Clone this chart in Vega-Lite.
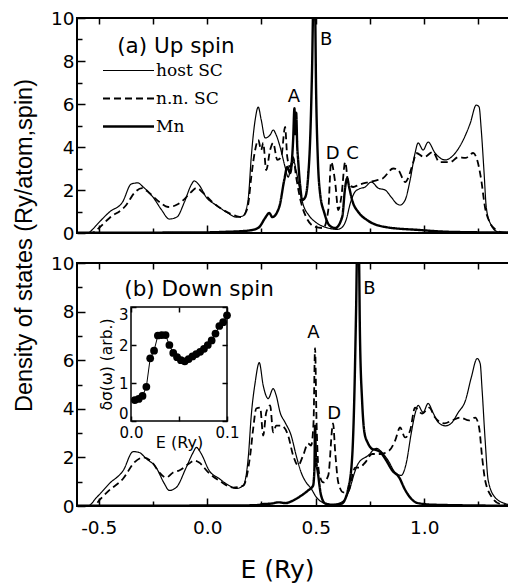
{
"$schema": "https://vega.github.io/schema/vega-lite/v6.json",
"padding": {"left": 11, "top": 8, "right": 0, "bottom": 0},
"bounds": "flush",
"spacing": 30,
"config": {
  "font": "DejaVu Sans",
  "view": {"stroke": "black", "strokeWidth": 2},
  "axis": {"domain": false, "grid": false, "tickColor": "black", "tickWidth": 1.5, "labelColor": "black", "titleColor": "black", "labelFontSize": 18.5, "titleFontWeight": "normal", "labelFont": "DejaVu Sans", "titleFont": "DejaVu Sans"},
  "line": {"color": "black"},
  "text": {"color": "black"}
},
"datasets": {
  "up": [
    {"E":-0.6,"d":0,"s":"host SC"},{"E":-0.55,"d":0,"s":"host SC"},{"E":-0.53,"d":0.15,"s":"host SC"},{"E":-0.51,"d":0.37,"s":"host SC"},{"E":-0.45,"d":0.98,"s":"host SC"},{"E":-0.39,"d":1.44,"s":"host SC"},{"E":-0.35,"d":2.28,"s":"host SC"},{"E":-0.32,"d":2.33,"s":"host SC"},{"E":-0.295,"d":2.14,"s":"host SC"},{"E":-0.25,"d":1.67,"s":"host SC"},{"E":-0.21,"d":1.07,"s":"host SC"},{"E":-0.175,"d":0.65,"s":"host SC"},{"E":-0.14,"d":0.74,"s":"host SC"},{"E":-0.105,"d":1.44,"s":"host SC"},{"E":-0.074,"d":2.23,"s":"host SC"},{"E":-0.06,"d":2.42,"s":"host SC"},{"E":-0.037,"d":2.23,"s":"host SC"},{"E":-0.005,"d":1.67,"s":"host SC"},{"E":0.04,"d":1.3,"s":"host SC"},{"E":0.088,"d":0.98,"s":"host SC"},{"E":0.134,"d":0.74,"s":"host SC"},{"E":0.166,"d":0.8,"s":"host SC"},{"E":0.18,"d":1.1,"s":"host SC"},{"E":0.19,"d":1.67,"s":"host SC"},{"E":0.203,"d":3.53,"s":"host SC"},{"E":0.221,"d":5.26,"s":"host SC"},{"E":0.235,"d":5.86,"s":"host SC"},{"E":0.249,"d":5.26,"s":"host SC"},{"E":0.267,"d":4.42,"s":"host SC"},{"E":0.29,"d":4.56,"s":"host SC"},{"E":0.304,"d":4.79,"s":"host SC"},{"E":0.318,"d":4.56,"s":"host SC"},{"E":0.336,"d":4.0,"s":"host SC"},{"E":0.359,"d":3.07,"s":"host SC"},{"E":0.373,"d":2.6,"s":"host SC"},{"E":0.387,"d":3.07,"s":"host SC"},{"E":0.4,"d":3.3,"s":"host SC"},{"E":0.41,"d":2.9,"s":"host SC"},{"E":0.425,"d":2.1,"s":"host SC"},{"E":0.44,"d":1.4,"s":"host SC"},{"E":0.47,"d":0.8,"s":"host SC"},{"E":0.5,"d":0.5,"s":"host SC"},{"E":0.55,"d":0.25,"s":"host SC"},{"E":0.6,"d":0.17,"s":"host SC"},{"E":0.62,"d":0.25,"s":"host SC"},{"E":0.64,"d":0.6,"s":"host SC"},{"E":0.66,"d":1.4,"s":"host SC"},{"E":0.68,"d":1.9,"s":"host SC"},{"E":0.7,"d":2.05,"s":"host SC"},{"E":0.728,"d":2.14,"s":"host SC"},{"E":0.756,"d":2.37,"s":"host SC"},{"E":0.788,"d":2.09,"s":"host SC"},{"E":0.82,"d":2.0,"s":"host SC"},{"E":0.848,"d":1.67,"s":"host SC"},{"E":0.875,"d":1.35,"s":"host SC"},{"E":0.889,"d":1.3,"s":"host SC"},{"E":0.912,"d":1.53,"s":"host SC"},{"E":0.935,"d":2.46,"s":"host SC"},{"E":0.958,"d":3.72,"s":"host SC"},{"E":0.972,"d":4.19,"s":"host SC"},{"E":0.995,"d":3.86,"s":"host SC"},{"E":1.018,"d":4.23,"s":"host SC"},{"E":1.05,"d":3.72,"s":"host SC"},{"E":1.097,"d":3.4,"s":"host SC"},{"E":1.143,"d":3.72,"s":"host SC"},{"E":1.18,"d":4.33,"s":"host SC"},{"E":1.212,"d":5.1,"s":"host SC"},{"E":1.24,"d":5.95,"s":"host SC"},{"E":1.253,"d":5.86,"s":"host SC"},{"E":1.263,"d":4.79,"s":"host SC"},{"E":1.276,"d":2.79,"s":"host SC"},{"E":1.286,"d":1.21,"s":"host SC"},{"E":1.304,"d":0.46,"s":"host SC"},{"E":1.34,"d":0.05,"s":"host SC"},{"E":1.4,"d":0,"s":"host SC"},
    {"E":-0.6,"d":0,"s":"n.n. SC"},{"E":-0.53,"d":0,"s":"n.n. SC"},{"E":-0.51,"d":0.14,"s":"n.n. SC"},{"E":-0.45,"d":0.7,"s":"n.n. SC"},{"E":-0.373,"d":1.3,"s":"n.n. SC"},{"E":-0.336,"d":1.86,"s":"n.n. SC"},{"E":-0.3,"d":2.09,"s":"n.n. SC"},{"E":-0.267,"d":1.86,"s":"n.n. SC"},{"E":-0.22,"d":1.44,"s":"n.n. SC"},{"E":-0.18,"d":1.21,"s":"n.n. SC"},{"E":-0.143,"d":1.3,"s":"n.n. SC"},{"E":-0.11,"d":1.53,"s":"n.n. SC"},{"E":-0.074,"d":1.9,"s":"n.n. SC"},{"E":-0.05,"d":2.09,"s":"n.n. SC"},{"E":-0.018,"d":1.86,"s":"n.n. SC"},{"E":0.028,"d":1.4,"s":"n.n. SC"},{"E":0.074,"d":1.07,"s":"n.n. SC"},{"E":0.134,"d":0.79,"s":"n.n. SC"},{"E":0.157,"d":0.74,"s":"n.n. SC"},{"E":0.175,"d":0.9,"s":"n.n. SC"},{"E":0.19,"d":1.4,"s":"n.n. SC"},{"E":0.203,"d":2.6,"s":"n.n. SC"},{"E":0.221,"d":3.86,"s":"n.n. SC"},{"E":0.235,"d":4.33,"s":"n.n. SC"},{"E":0.249,"d":3.86,"s":"n.n. SC"},{"E":0.258,"d":4.19,"s":"n.n. SC"},{"E":0.272,"d":2.93,"s":"n.n. SC"},{"E":0.29,"d":3.86,"s":"n.n. SC"},{"E":0.304,"d":4.19,"s":"n.n. SC"},{"E":0.323,"d":3.4,"s":"n.n. SC"},{"E":0.341,"d":3.53,"s":"n.n. SC"},{"E":0.359,"d":4.93,"s":"n.n. SC"},{"E":0.369,"d":3.53,"s":"n.n. SC"},{"E":0.382,"d":3.07,"s":"n.n. SC"},{"E":0.396,"d":3.53,"s":"n.n. SC"},{"E":0.41,"d":2.6,"s":"n.n. SC"},{"E":0.433,"d":1.4,"s":"n.n. SC"},{"E":0.456,"d":0.74,"s":"n.n. SC"},{"E":0.498,"d":0.28,"s":"n.n. SC"},{"E":0.535,"d":0.23,"s":"n.n. SC"},{"E":0.558,"d":1.07,"s":"n.n. SC"},{"E":0.571,"d":3.3,"s":"n.n. SC"},{"E":0.59,"d":2.33,"s":"n.n. SC"},{"E":0.604,"d":1.07,"s":"n.n. SC"},{"E":0.618,"d":1.67,"s":"n.n. SC"},{"E":0.636,"d":3.3,"s":"n.n. SC"},{"E":0.65,"d":2.33,"s":"n.n. SC"},{"E":0.673,"d":2.14,"s":"n.n. SC"},{"E":0.7,"d":2.25,"s":"n.n. SC"},{"E":0.746,"d":2.37,"s":"n.n. SC"},{"E":0.78,"d":2.45,"s":"n.n. SC"},{"E":0.81,"d":2.55,"s":"n.n. SC"},{"E":0.857,"d":3.0,"s":"n.n. SC"},{"E":0.88,"d":2.93,"s":"n.n. SC"},{"E":0.912,"d":2.37,"s":"n.n. SC"},{"E":0.95,"d":3.3,"s":"n.n. SC"},{"E":0.963,"d":3.72,"s":"n.n. SC"},{"E":1.0,"d":3.53,"s":"n.n. SC"},{"E":1.04,"d":3.77,"s":"n.n. SC"},{"E":1.07,"d":3.3,"s":"n.n. SC"},{"E":1.12,"d":3.3,"s":"n.n. SC"},{"E":1.157,"d":3.53,"s":"n.n. SC"},{"E":1.19,"d":3.49,"s":"n.n. SC"},{"E":1.226,"d":3.72,"s":"n.n. SC"},{"E":1.244,"d":3.4,"s":"n.n. SC"},{"E":1.263,"d":2.46,"s":"n.n. SC"},{"E":1.28,"d":1.21,"s":"n.n. SC"},{"E":1.304,"d":0.46,"s":"n.n. SC"},{"E":1.33,"d":0.15,"s":"n.n. SC"},{"E":1.36,"d":0.03,"s":"n.n. SC"},{"E":1.4,"d":0,"s":"n.n. SC"},
    {"E":-0.6,"d":0.01,"s":"Mn"},{"E":-0.2,"d":0.02,"s":"Mn"},{"E":0.0,"d":0.03,"s":"Mn"},{"E":0.1,"d":0.06,"s":"Mn"},{"E":0.15,"d":0.08,"s":"Mn"},{"E":0.207,"d":0.14,"s":"Mn"},{"E":0.24,"d":0.28,"s":"Mn"},{"E":0.267,"d":0.7,"s":"Mn"},{"E":0.286,"d":0.93,"s":"Mn"},{"E":0.3,"d":0.74,"s":"Mn"},{"E":0.332,"d":1.21,"s":"Mn"},{"E":0.355,"d":2.46,"s":"Mn"},{"E":0.369,"d":3.07,"s":"Mn"},{"E":0.382,"d":2.79,"s":"Mn"},{"E":0.396,"d":4.33,"s":"Mn"},{"E":0.402,"d":5.8,"s":"Mn"},{"E":0.406,"d":4.6,"s":"Mn"},{"E":0.41,"d":5.6,"s":"Mn"},{"E":0.415,"d":4.0,"s":"Mn"},{"E":0.419,"d":3.4,"s":"Mn"},{"E":0.429,"d":2.14,"s":"Mn"},{"E":0.438,"d":1.53,"s":"Mn"},{"E":0.452,"d":1.67,"s":"Mn"},{"E":0.465,"d":2.6,"s":"Mn"},{"E":0.475,"d":4.5,"s":"Mn"},{"E":0.483,"d":7.5,"s":"Mn"},{"E":0.49,"d":11,"s":"Mn"},{"E":0.496,"d":11,"s":"Mn"},{"E":0.502,"d":6.5,"s":"Mn"},{"E":0.51,"d":3.4,"s":"Mn"},{"E":0.52,"d":1.86,"s":"Mn"},{"E":0.54,"d":0.93,"s":"Mn"},{"E":0.562,"d":0.37,"s":"Mn"},{"E":0.59,"d":0.23,"s":"Mn"},{"E":0.622,"d":0.74,"s":"Mn"},{"E":0.636,"d":2.14,"s":"Mn"},{"E":0.645,"d":2.55,"s":"Mn"},{"E":0.654,"d":2.14,"s":"Mn"},{"E":0.668,"d":1.53,"s":"Mn"},{"E":0.7,"d":0.93,"s":"Mn"},{"E":0.737,"d":0.6,"s":"Mn"},{"E":0.82,"d":0.28,"s":"Mn"},{"E":0.977,"d":0.14,"s":"Mn"},{"E":1.13,"d":0.05,"s":"Mn"},{"E":1.4,"d":0.02,"s":"Mn"}
  ],
  "down": [
    {"E":-0.6,"d":0,"s":"host SC"},{"E":-0.55,"d":0,"s":"host SC"},{"E":-0.51,"d":0.35,"s":"host SC"},{"E":-0.45,"d":0.93,"s":"host SC"},{"E":-0.387,"d":1.46,"s":"host SC"},{"E":-0.341,"d":2.24,"s":"host SC"},{"E":-0.313,"d":2.2,"s":"host SC"},{"E":-0.281,"d":1.95,"s":"host SC"},{"E":-0.235,"d":1.58,"s":"host SC"},{"E":-0.198,"d":0.93,"s":"host SC"},{"E":-0.175,"d":0.64,"s":"host SC"},{"E":-0.143,"d":0.76,"s":"host SC"},{"E":-0.097,"d":1.58,"s":"host SC"},{"E":-0.065,"d":2.2,"s":"host SC"},{"E":-0.05,"d":2.41,"s":"host SC"},{"E":-0.028,"d":2.16,"s":"host SC"},{"E":0.009,"d":1.46,"s":"host SC"},{"E":0.055,"d":1.13,"s":"host SC"},{"E":0.101,"d":0.84,"s":"host SC"},{"E":0.134,"d":0.72,"s":"host SC"},{"E":0.166,"d":0.84,"s":"host SC"},{"E":0.19,"d":2.08,"s":"host SC"},{"E":0.203,"d":3.72,"s":"host SC"},{"E":0.221,"d":5.08,"s":"host SC"},{"E":0.24,"d":5.9,"s":"host SC"},{"E":0.258,"d":4.96,"s":"host SC"},{"E":0.281,"d":4.42,"s":"host SC"},{"E":0.304,"d":4.83,"s":"host SC"},{"E":0.318,"d":4.55,"s":"host SC"},{"E":0.336,"d":3.85,"s":"host SC"},{"E":0.359,"d":3.44,"s":"host SC"},{"E":0.387,"d":2.9,"s":"host SC"},{"E":0.41,"d":2.08,"s":"host SC"},{"E":0.433,"d":1.38,"s":"host SC"},{"E":0.456,"d":0.97,"s":"host SC"},{"E":0.479,"d":0.72,"s":"host SC"},{"E":0.5,"d":0.4,"s":"host SC"},{"E":0.53,"d":0.15,"s":"host SC"},{"E":0.57,"d":0.05,"s":"host SC"},{"E":0.61,"d":0.12,"s":"host SC"},{"E":0.64,"d":0.35,"s":"host SC"},{"E":0.66,"d":0.8,"s":"host SC"},{"E":0.68,"d":1.4,"s":"host SC"},{"E":0.696,"d":1.75,"s":"host SC"},{"E":0.742,"d":2.08,"s":"host SC"},{"E":0.779,"d":2.37,"s":"host SC"},{"E":0.81,"d":2.16,"s":"host SC"},{"E":0.834,"d":1.87,"s":"host SC"},{"E":0.866,"d":1.38,"s":"host SC"},{"E":0.894,"d":1.26,"s":"host SC"},{"E":0.917,"d":1.75,"s":"host SC"},{"E":0.94,"d":2.98,"s":"host SC"},{"E":0.958,"d":3.8,"s":"host SC"},{"E":0.972,"d":4.14,"s":"host SC"},{"E":0.995,"d":3.85,"s":"host SC"},{"E":1.018,"d":4.22,"s":"host SC"},{"E":1.04,"d":3.85,"s":"host SC"},{"E":1.065,"d":3.44,"s":"host SC"},{"E":1.097,"d":3.3,"s":"host SC"},{"E":1.124,"d":3.4,"s":"host SC"},{"E":1.157,"d":3.85,"s":"host SC"},{"E":1.19,"d":4.34,"s":"host SC"},{"E":1.217,"d":5.29,"s":"host SC"},{"E":1.244,"d":6.07,"s":"host SC"},{"E":1.258,"d":5.86,"s":"host SC"},{"E":1.267,"d":4.75,"s":"host SC"},{"E":1.281,"d":2.69,"s":"host SC"},{"E":1.295,"d":1.05,"s":"host SC"},{"E":1.327,"d":0.35,"s":"host SC"},{"E":1.373,"d":0.1,"s":"host SC"},{"E":1.4,"d":0.05,"s":"host SC"},
    {"E":-0.6,"d":0,"s":"n.n. SC"},{"E":-0.52,"d":0,"s":"n.n. SC"},{"E":-0.498,"d":0.23,"s":"n.n. SC"},{"E":-0.452,"d":0.64,"s":"n.n. SC"},{"E":-0.387,"d":1.13,"s":"n.n. SC"},{"E":-0.336,"d":1.79,"s":"n.n. SC"},{"E":-0.295,"d":2.0,"s":"n.n. SC"},{"E":-0.249,"d":1.75,"s":"n.n. SC"},{"E":-0.221,"d":1.38,"s":"n.n. SC"},{"E":-0.189,"d":1.17,"s":"n.n. SC"},{"E":-0.157,"d":1.38,"s":"n.n. SC"},{"E":-0.129,"d":1.46,"s":"n.n. SC"},{"E":-0.083,"d":1.75,"s":"n.n. SC"},{"E":-0.06,"d":1.87,"s":"n.n. SC"},{"E":-0.037,"d":1.79,"s":"n.n. SC"},{"E":0.005,"d":1.38,"s":"n.n. SC"},{"E":0.055,"d":1.05,"s":"n.n. SC"},{"E":0.12,"d":0.76,"s":"n.n. SC"},{"E":0.166,"d":0.84,"s":"n.n. SC"},{"E":0.198,"d":2.08,"s":"n.n. SC"},{"E":0.212,"d":3.19,"s":"n.n. SC"},{"E":0.226,"d":4.01,"s":"n.n. SC"},{"E":0.244,"d":4.05,"s":"n.n. SC"},{"E":0.258,"d":2.9,"s":"n.n. SC"},{"E":0.272,"d":3.85,"s":"n.n. SC"},{"E":0.29,"d":4.14,"s":"n.n. SC"},{"E":0.304,"d":3.03,"s":"n.n. SC"},{"E":0.318,"d":3.31,"s":"n.n. SC"},{"E":0.341,"d":3.31,"s":"n.n. SC"},{"E":0.373,"d":2.9,"s":"n.n. SC"},{"E":0.396,"d":2.08,"s":"n.n. SC"},{"E":0.419,"d":1.67,"s":"n.n. SC"},{"E":0.442,"d":2.08,"s":"n.n. SC"},{"E":0.465,"d":2.57,"s":"n.n. SC"},{"E":0.479,"d":2.49,"s":"n.n. SC"},{"E":0.49,"d":3.44,"s":"n.n. SC"},{"E":0.497,"d":6.5,"s":"n.n. SC"},{"E":0.504,"d":3.44,"s":"n.n. SC"},{"E":0.515,"d":1.38,"s":"n.n. SC"},{"E":0.535,"d":0.97,"s":"n.n. SC"},{"E":0.558,"d":1.26,"s":"n.n. SC"},{"E":0.58,"d":3.4,"s":"n.n. SC"},{"E":0.59,"d":2.2,"s":"n.n. SC"},{"E":0.604,"d":0.97,"s":"n.n. SC"},{"E":0.627,"d":0.56,"s":"n.n. SC"},{"E":0.65,"d":0.6,"s":"n.n. SC"},{"E":0.682,"d":1.58,"s":"n.n. SC"},{"E":0.7,"d":1.58,"s":"n.n. SC"},{"E":0.728,"d":1.79,"s":"n.n. SC"},{"E":0.76,"d":2.14,"s":"n.n. SC"},{"E":0.797,"d":2.14,"s":"n.n. SC"},{"E":0.839,"d":2.28,"s":"n.n. SC"},{"E":0.866,"d":2.69,"s":"n.n. SC"},{"E":0.889,"d":3.23,"s":"n.n. SC"},{"E":0.912,"d":2.82,"s":"n.n. SC"},{"E":0.935,"d":3.11,"s":"n.n. SC"},{"E":0.958,"d":4.05,"s":"n.n. SC"},{"E":0.99,"d":3.8,"s":"n.n. SC"},{"E":1.023,"d":4.05,"s":"n.n. SC"},{"E":1.05,"d":3.64,"s":"n.n. SC"},{"E":1.092,"d":3.4,"s":"n.n. SC"},{"E":1.129,"d":3.52,"s":"n.n. SC"},{"E":1.166,"d":3.64,"s":"n.n. SC"},{"E":1.207,"d":3.52,"s":"n.n. SC"},{"E":1.235,"d":3.64,"s":"n.n. SC"},{"E":1.253,"d":3.23,"s":"n.n. SC"},{"E":1.267,"d":2.0,"s":"n.n. SC"},{"E":1.281,"d":1.05,"s":"n.n. SC"},{"E":1.313,"d":0.35,"s":"n.n. SC"},{"E":1.35,"d":0.08,"s":"n.n. SC"},{"E":1.4,"d":0.02,"s":"n.n. SC"},
    {"E":-0.6,"d":0.01,"s":"Mn"},{"E":0.0,"d":0.02,"s":"Mn"},{"E":0.22,"d":0.03,"s":"Mn"},{"E":0.26,"d":0.08,"s":"Mn"},{"E":0.295,"d":0.1,"s":"Mn"},{"E":0.33,"d":0.15,"s":"Mn"},{"E":0.36,"d":0.12,"s":"Mn"},{"E":0.39,"d":0.2,"s":"Mn"},{"E":0.42,"d":0.35,"s":"Mn"},{"E":0.445,"d":0.5,"s":"Mn"},{"E":0.465,"d":0.64,"s":"Mn"},{"E":0.488,"d":0.84,"s":"Mn"},{"E":0.494,"d":1.5,"s":"Mn"},{"E":0.497,"d":3.3,"s":"Mn"},{"E":0.501,"d":2.0,"s":"Mn"},{"E":0.51,"d":1.38,"s":"Mn"},{"E":0.525,"d":0.43,"s":"Mn"},{"E":0.545,"d":0.1,"s":"Mn"},{"E":0.58,"d":0.05,"s":"Mn"},{"E":0.62,"d":0.1,"s":"Mn"},{"E":0.65,"d":0.72,"s":"Mn"},{"E":0.668,"d":2.0,"s":"Mn"},{"E":0.678,"d":4.5,"s":"Mn"},{"E":0.686,"d":8.0,"s":"Mn"},{"E":0.692,"d":11,"s":"Mn"},{"E":0.698,"d":11,"s":"Mn"},{"E":0.704,"d":7.0,"s":"Mn"},{"E":0.714,"d":4.3,"s":"Mn"},{"E":0.725,"d":3.0,"s":"Mn"},{"E":0.74,"d":2.6,"s":"Mn"},{"E":0.76,"d":2.35,"s":"Mn"},{"E":0.78,"d":2.3,"s":"Mn"},{"E":0.8,"d":2.2,"s":"Mn"},{"E":0.82,"d":1.95,"s":"Mn"},{"E":0.853,"d":1.46,"s":"Mn"},{"E":0.885,"d":1.17,"s":"Mn"},{"E":0.91,"d":0.7,"s":"Mn"},{"E":0.94,"d":0.3,"s":"Mn"},{"E":0.97,"d":0.12,"s":"Mn"},{"E":1.05,"d":0.05,"s":"Mn"},{"E":1.4,"d":0.01,"s":"Mn"}
  ],
  "inset": [
    {"e":0.004,"v":0.55},{"e":0.008,"v":0.58},{"e":0.012,"v":0.66},{"e":0.016,"v":0.9},{"e":0.02,"v":1.65},{"e":0.024,"v":1.85},{"e":0.028,"v":2.25},{"e":0.032,"v":2.26},{"e":0.036,"v":2.26},{"e":0.04,"v":2.0},{"e":0.044,"v":1.79},{"e":0.048,"v":1.68},{"e":0.052,"v":1.6},{"e":0.056,"v":1.57},{"e":0.06,"v":1.63},{"e":0.064,"v":1.7},{"e":0.068,"v":1.76},{"e":0.072,"v":1.82},{"e":0.076,"v":1.9},{"e":0.08,"v":2.0},{"e":0.084,"v":2.12},{"e":0.088,"v":2.3},{"e":0.092,"v":2.5},{"e":0.096,"v":2.6},{"e":0.1,"v":2.78}
  ],
  "lab_up": [
    {"x":0.399,"y":6.1,"t":"A"},{"x":0.548,"y":8.74,"t":"B"},{"x":0.578,"y":3.44,"t":"D"},{"x":0.67,"y":3.44,"t":"C"}
  ],
  "lab_down": [
    {"x":0.49,"y":6.93,"t":"A"},{"x":0.747,"y":8.74,"t":"B"},{"x":0.585,"y":3.6,"t":"D"}
  ],
  "title_up": [{"x":-0.415,"y":8.37,"t":"(a) Up spin"}],
  "title_down": [{"x":-0.382,"y":8.66,"t":"(b) Down spin"}]
},
"resolve": {"legend": {"strokeDash": "independent", "strokeWidth": "independent"}},
"vconcat": [
  {
    "width": 434, "height": 215,
    "layer": [
      {
        "data": {"name": "up"},
        "mark": {"type": "line", "color": "black", "clip": true, "interpolate": "monotone"},
        "encoding": {
          "x": {"field": "E", "type": "quantitative", "scale": {"domain": [-0.6, 1.4], "nice": false, "zero": false},
                "axis": {"orient": "bottom", "values": [-0.5,-0.25,0,0.25,0.5,0.75,1,1.25], "labels": false, "title": null,
                         "tickSize": {"condition": {"test": "datum.value % 0.5 === 0", "value": -8}, "value": -5}}},
          "y": {"field": "d", "type": "quantitative", "scale": {"domain": [0, 10], "nice": false},
                "axis": {"orient": "left", "values": [0,1,2,3,4,5,6,7,8,9,10], "labelExpr": "datum.value % 2 === 0 ? datum.label : ''",
                         "tickSize": {"condition": {"test": "datum.value % 2 === 0", "value": -8}, "value": -5}, "labelPadding": 11,
                         "title": "Density of states (Ry/atom,spin)", "titleFont": "Liberation Sans", "titleFontSize": 23.5,
                         "titleX": -46, "titleY": 227, "titleAngle": -90, "titleAlign": "center", "titleBaseline": "alphabetic"}},
          "strokeDash": {"field": "s", "type": "nominal", "scale": {"domain": ["host SC", "n.n. SC", "Mn"], "range": [[1,0],[7,4],[1,0]]},
                         "legend": {"title": null, "orient": "none", "legendX": 24, "legendY": 44, "labelFont": "DejaVu Serif", "labelFontSize": 17,
                                    "symbolType": "M-5,0H5", "symbolSize": 104, "symbolOffset": 19, "rowPadding": 10, "labelOffset": 19, "symbolStrokeColor": "black",
                                    "encode": {"symbols": {"update": {"strokeWidth": {"signal": "datum.value === 'host SC' ? 1.2 : 2.4"}}}}}},
          "strokeWidth": {"field": "s", "type": "nominal", "scale": {"domain": ["host SC", "n.n. SC", "Mn"], "range": [1.2, 2.4, 2.4]}, "legend": null}
        }
      },
      {
        "data": {"name": "lab_up"},
        "mark": {"type": "text", "fontSize": 18, "align": "center", "baseline": "alphabetic"},
        "encoding": {
          "x": {"field": "x", "type": "quantitative", "scale": {"domain": [-0.6, 1.4], "nice": false, "zero": false},
                "axis": {"orient": "top", "values": [-0.5,-0.25,0,0.25,0.5,0.75,1,1.25], "labels": false, "title": null, "tickSize": -6}},
          "y": {"field": "y", "type": "quantitative", "scale": {"domain": [0, 10], "nice": false}, "axis": null},
          "text": {"field": "t"}
        }
      },
      {
        "data": {"name": "title_up"},
        "mark": {"type": "text", "fontSize": 21.5, "align": "left", "baseline": "alphabetic"},
        "encoding": {
          "x": {"field": "x", "type": "quantitative", "scale": {"domain": [-0.6, 1.4], "nice": false, "zero": false}, "axis": null},
          "y": {"field": "y", "type": "quantitative", "scale": {"domain": [0, 10], "nice": false}, "axis": null},
          "text": {"field": "t"}
        }
      }
    ],
    "resolve": {"scale": {"x": "independent", "y": "independent"}, "axis": {"x": "independent", "y": "independent"}}
  },
  {
    "width": 434, "height": 243,
    "layer": [
      {
        "data": {"name": "down"},
        "mark": {"type": "line", "color": "black", "clip": true, "interpolate": "monotone"},
        "encoding": {
          "x": {"field": "E", "type": "quantitative", "scale": {"domain": [-0.6, 1.4], "nice": false, "zero": false},
                "axis": {"orient": "bottom", "values": [-0.5,-0.25,0,0.25,0.5,0.75,1,1.25],
                         "labelExpr": "datum.value % 0.5 === 0 ? replace(format(datum.value, '.1f'), '\u2212', '-') : ''",
                         "labelPadding": 20, "title": "E (Ry)", "titleFontSize": 25, "titleX": 200, "titleY": 71.5, "titleBaseline": "alphabetic", "titleAlign": "center",
                         "tickSize": {"condition": {"test": "datum.value % 0.5 === 0", "value": -8}, "value": -5}}},
          "y": {"field": "d", "type": "quantitative", "scale": {"domain": [0, 10], "nice": false},
                "axis": {"orient": "left", "values": [0,1,2,3,4,5,6,7,8,9,10], "labelExpr": "datum.value % 2 === 0 ? datum.label : ''",
                         "tickSize": {"condition": {"test": "datum.value % 2 === 0", "value": -8}, "value": -5}, "labelPadding": 11, "title": null}},
          "strokeDash": {"field": "s", "type": "nominal", "scale": {"domain": ["host SC", "n.n. SC", "Mn"], "range": [[1,0],[7,4],[1,0]]}, "legend": null},
          "strokeWidth": {"field": "s", "type": "nominal", "scale": {"domain": ["host SC", "n.n. SC", "Mn"], "range": [1.2, 2.4, 2.4]}, "legend": null}
        }
      },
      {
        "data": {"name": "lab_down"},
        "mark": {"type": "text", "fontSize": 18, "align": "center", "baseline": "alphabetic"},
        "encoding": {
          "x": {"field": "x", "type": "quantitative", "scale": {"domain": [-0.6, 1.4], "nice": false, "zero": false},
                "axis": {"orient": "top", "values": [-0.5,-0.25,0,0.25,0.5,0.75,1,1.25], "labels": false, "title": null, "tickSize": -6}},
          "y": {"field": "y", "type": "quantitative", "scale": {"domain": [0, 10], "nice": false}, "axis": null},
          "text": {"field": "t"}
        }
      },
      {
        "data": {"name": "title_down"},
        "mark": {"type": "text", "fontSize": 21.5, "align": "left", "baseline": "alphabetic"},
        "encoding": {
          "x": {"field": "x", "type": "quantitative", "scale": {"domain": [-0.6, 1.4], "nice": false, "zero": false}, "axis": null},
          "y": {"field": "y", "type": "quantitative", "scale": {"domain": [0, 10], "nice": false}, "axis": null},
          "text": {"field": "t"}
        }
      },
      {
        "data": {"name": "inset"},
        "mark": {"type": "line", "color": "black", "strokeWidth": 1},
        "encoding": {
          "x": {"field": "e", "type": "quantitative", "scale": {"domain": [0, 0.1], "range": [54, 150], "nice": false, "zero": false}, "axis": null},
          "y": {"field": "v", "type": "quantitative", "scale": {"domain": [0, 3], "range": [158, 44], "nice": false}, "axis": null}
        }
      },
      {
        "data": {"name": "inset"},
        "mark": {"type": "point", "filled": true, "color": "black", "size": 60, "opacity": 1},
        "encoding": {
          "x": {"field": "e", "type": "quantitative", "scale": {"domain": [0, 0.1], "range": [54, 150], "nice": false, "zero": false},
                "axis": {"orient": "bottom", "offset": -85, "values": [0, 0.05, 0.1], "labelExpr": "datum.value === 0.05 ? '' : format(datum.value, '.1f')", "labelFlush": false,
                         "tickSize": -5, "labelFontSize": 15, "labelPadding": 9, "title": "E (Ry)", "titleFontSize": 16, "titleY": 26, "titleBaseline": "alphabetic"}},
          "y": {"field": "v", "type": "quantitative", "scale": {"domain": [0, 3], "range": [158, 44], "nice": false},
                "axis": {"orient": "left", "offset": -54, "values": [0, 1, 2, 3], "tickSize": -5, "labelFontSize": 15, "labelPadding": 8, "labelFlush": true,
                         "title": "δσ(ω) (arb.)", "titleFontSize": 15.5, "titleX": -20, "titleBaseline": "alphabetic", "titleAlign": "center", "titleAngle": -90}}
        }
      },
      {
        "data": {"values": [{}]},
        "mark": {"type": "rect", "fill": "transparent", "stroke": "black", "strokeWidth": 1.5},
        "encoding": {
          "x": {"datum": 0, "type": "quantitative", "scale": {"domain": [0, 0.1], "range": [54, 150], "nice": false, "zero": false},
                "axis": {"orient": "top", "offset": -44, "values": [0, 0.05, 0.1], "labels": false, "tickSize": -5, "title": null}},
          "x2": {"datum": 0.1},
          "y": {"datum": 0, "type": "quantitative", "scale": {"domain": [0, 3], "range": [158, 44], "nice": false},
                "axis": {"orient": "right", "offset": -284, "values": [0, 1, 2, 3], "labels": false, "tickSize": -5, "title": null}},
          "y2": {"datum": 3}
        }
      }
    ],
    "resolve": {"scale": {"x": "independent", "y": "independent"}, "axis": {"x": "independent", "y": "independent"}}
  }
]
}
